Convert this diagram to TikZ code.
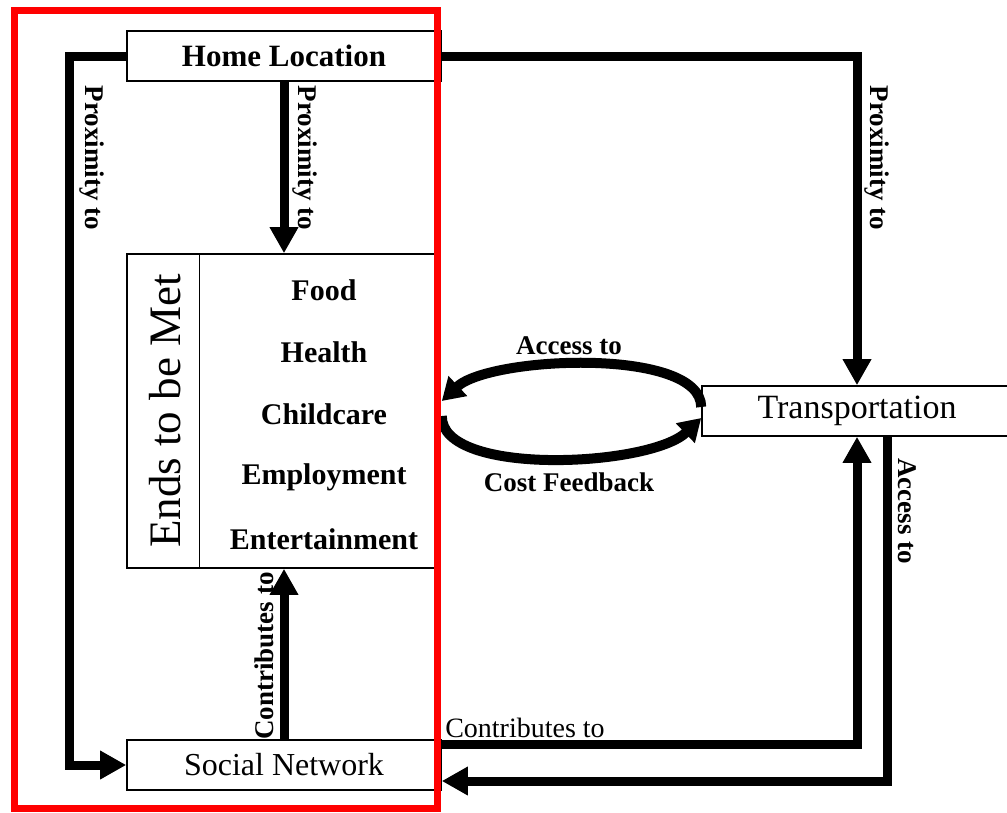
\documentclass[tikz,border=0pt]{standalone}
\usepackage{fontspec}
\setmainfont{Liberation Serif}
\usetikzlibrary{arrows.meta}
\tikzset{
  boxn/.style={draw=black, line width=1.6pt, fill=white, inner sep=0pt},
  conn/.style={line width=9pt, -{Triangle[length=26pt,width=27pt]}},
  loopc/.style={line width=10pt, -{Triangle[length=22pt,width=26pt]}},
  lab/.style={inner sep=0pt, font=\bfseries\fontsize{27}{30}\selectfont},
  item/.style={inner sep=0pt, font=\bfseries\fontsize{30}{34}\selectfont},
}
\begin{document}
\begin{tikzpicture}[x=1pt,y=-1pt]
\useasboundingbox (0,0) rectangle (1007,812);
\fill[white] (0,0) rectangle (1007,812);

% boxes
\node[boxn, minimum width=314pt, minimum height=50pt, font=\bfseries\fontsize{31}{34}\selectfont] (home) at (284,56) {Home Location};
\node[boxn, minimum width=310pt, minimum height=314pt] (ends) at (282,411) {};
\node[boxn, minimum width=314pt, minimum height=50pt, font=\fontsize{32}{34}\selectfont] (social) at (284,765) {Social Network};
\node[boxn, minimum width=310pt, minimum height=50pt, font=\fontsize{34}{36}\selectfont] (trans) at (857,411) {Transportation};

% ends box content
\draw[line width=1.2pt] ([xshift=73pt]ends.north west) -- ([xshift=73pt]ends.south west);
\node[inner sep=0pt, rotate=90, font=\fontsize{45}{48}\selectfont] (endst) at (165,411) {Ends to be Met};
\node[item] (food) at (324,290) {Food};
\node[item] (health) at (324,352) {Health};
\node[item] (child) at (324,414) {Childcare};
\node[item] (employ) at (324,477) {Employment};
\node[item] (enter) at (324,539) {Entertainment};

% connector corners
\coordinate (lc1) at (69,56);
\coordinate (lc2) at (69,765);

% connectors
\draw[conn] (home.west) -- (lc1) -- (lc2) -- (social.west);
\draw[conn] (home.south) -- (home.south |- ends.north);
\draw[conn] (home.east) -| (trans.north);
\draw[conn] ([yshift=21pt]social.east) -| (trans.south);
\draw[conn] ([xshift=30pt]trans.south) |- ([yshift=-16pt]social.east);
\draw[conn] (social.north) -- (social.north |- ends.south);

% loop between ends and transportation
\draw[loopc] ([yshift=4pt]trans.west) .. controls (701,347) and (490,356) .. ([xshift=4pt,yshift=10pt]ends.east);
\draw[loopc] ([xshift=4pt,yshift=-5pt]ends.east) .. controls (441,477) and (650,467) .. ([yshift=-7pt]trans.west);

% labels
\node[lab, rotate=-90] (p1) at (92,158) {Proximity to};
\node[lab, rotate=-90] (p2) at (305,158) {Proximity to};
\node[lab, rotate=-90] (p3) at (877,158) {Proximity to};
\node[lab, rotate=-90] (a2) at (907,511) {Access to};
\node[lab, rotate=90] (c1) at (264,656) {Contributes to};
\node[inner sep=0pt, font=\fontsize{28}{30}\selectfont] (c2) at (525,728) {Contributes to};
\node[lab] (a1) at (569,346) {Access to};
\node[lab] (cf) at (569,482) {Cost Feedback};

% red frame
\draw[red, line width=7pt] (14.5,10) rectangle (437.5,808.5);
\end{tikzpicture}
\end{document}
